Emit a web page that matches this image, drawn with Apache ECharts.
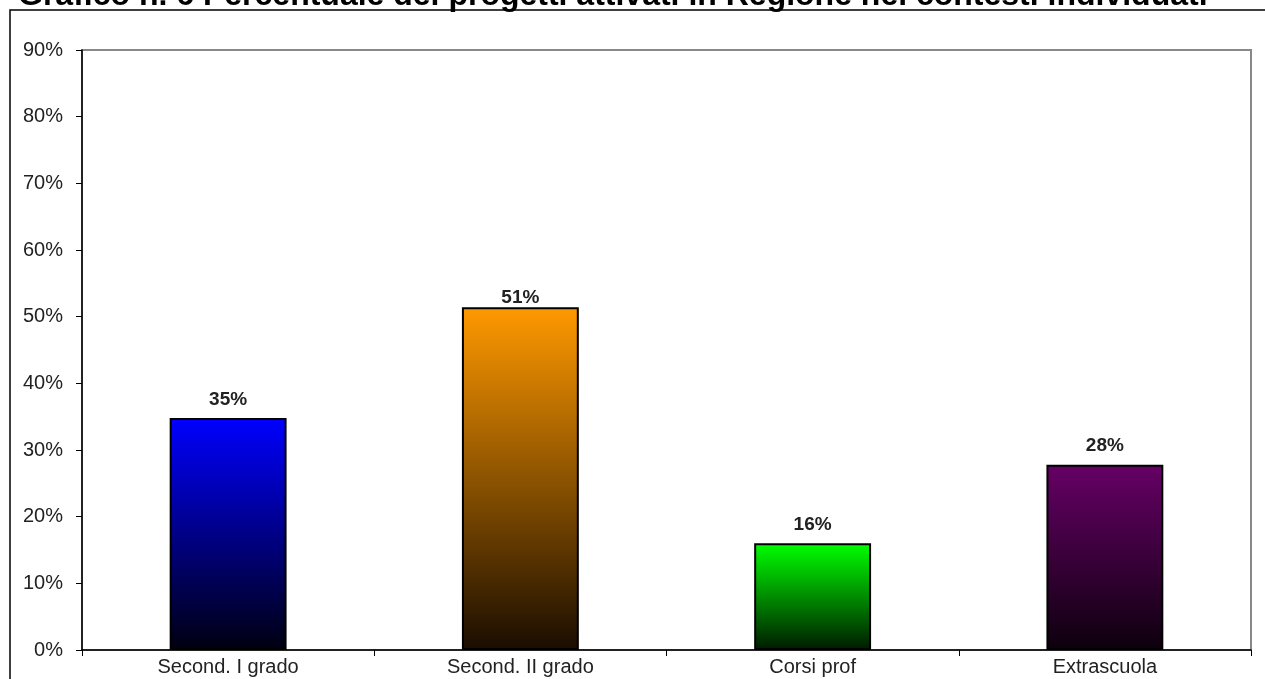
<!DOCTYPE html>
<html>
<head>
<meta charset="utf-8">
<script src="https://cdn.jsdelivr.net/npm/echarts@6/dist/echarts.min.js"></script>
<style>
html,body{margin:0;padding:0;background:#fff;}
#chart{width:1265px;height:679px;}
</style>
</head>
<body>
<div id="chart"></div>
<script>
const titleText = 'Grafico n. 6 Percentuale dei progetti attivati in Regione nei contesti individuati';
const categories = ['Second. I grado', 'Second. II grado', 'Corsi prof', 'Extrascuola'];
const values = [34.8, 51.4, 16.0, 27.8];
const topColors = ['#0000ff', '#ff9900', '#00ff00', '#660066'];
const bottomColors = ['#000010', '#1a0d00', '#001a00', '#0d000d'];

const chart = echarts.init(document.getElementById('chart'));
const data = values.map((v, i) => ({
  value: v,
  itemStyle: {
    color: new echarts.graphic.LinearGradient(0, 0, 0, 1, [
      {offset: 0, color: topColors[i]},
      {offset: 1, color: bottomColors[i]}
    ])
  },
  label: i === 1 ? {distance: 0} : undefined
}));

chart.setOption({
  animation: false,
  title: {
    text: titleText,
    left: 13,
    top: -25,
    textStyle: {fontFamily: 'Liberation Sans, Arial, sans-serif', fontWeight: 'bold', fontSize: 32, color: '#000'}
  },
  graphic: [{
    type: 'rect',
    shape: {x: 10, y: 10, width: 1400, height: 800},
    style: {fill: 'none', stroke: '#000', lineWidth: 1.5},
    silent: true,
    z: -10
  }],
  grid: {
    left: 82, right: 14, top: 50, bottom: 29,
    show: true, borderColor: '#888', borderWidth: 2, backgroundColor: 'transparent'
  },
  xAxis: {
    type: 'category',
    data: categories,
    boundaryGap: true,
    axisLine: {lineStyle: {color: '#000', width: 1.5}},
    axisTick: {show: true, length: 6, lineStyle: {color: '#000'}},
    axisLabel: {fontFamily: 'Liberation Sans, Arial, sans-serif', fontSize: 20, color: '#222', margin: 7}
  },
  yAxis: {
    type: 'value',
    min: 0, max: 90, interval: 10,
    axisLine: {show: true, lineStyle: {color: '#000', width: 1.5}},
    axisTick: {show: true, length: 6, lineStyle: {color: '#000'}},
    splitLine: {show: false},
    axisLabel: {formatter: '{value}%', fontFamily: 'Liberation Sans, Arial, sans-serif', fontSize: 20, color: '#222', margin: 19}
  },
  series: [{
    type: 'bar',
    data: data,
    barWidth: '40%',
    itemStyle: {borderColor: '#000', borderWidth: 2},
    label: {
      show: true,
      position: 'top',
      distance: 9,
      formatter: p => Math.round(p.value) + '%',
      fontFamily: 'Liberation Sans, Arial, sans-serif',
      fontWeight: 'bold',
      fontSize: 19,
      color: '#222'
    }
  }]
});
</script>
</body>
</html>
